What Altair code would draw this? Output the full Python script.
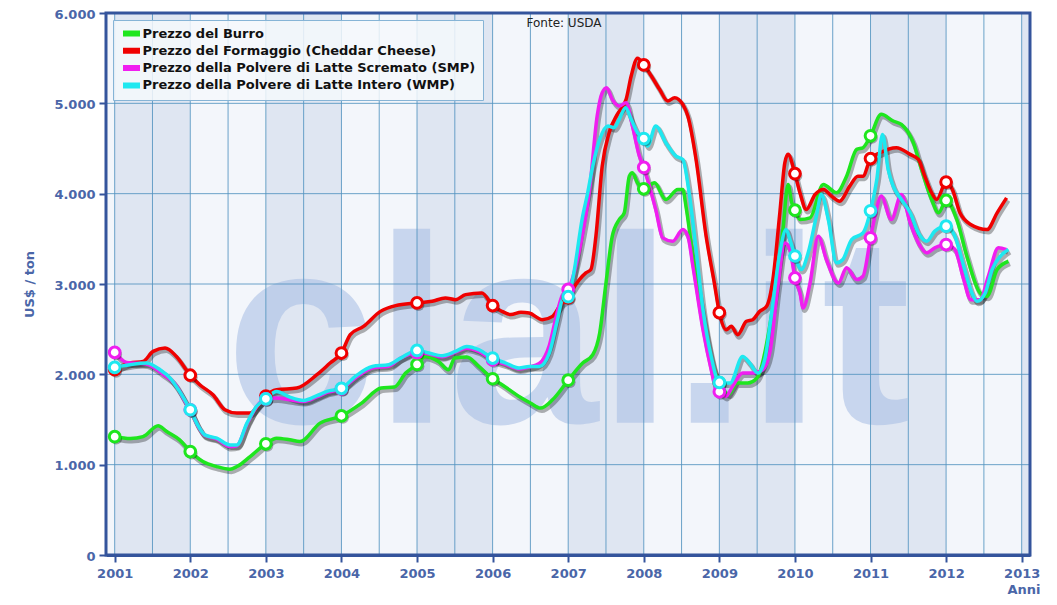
import altair as alt
import pandas as pd

# ---------------- data ----------------
SERIES = [
    "Prezzo del Burro",
    "Prezzo del Formaggio (Cheddar Cheese)",
    "Prezzo della Polvere di Latte Scremato (SMP)",
    "Prezzo della Polvere di Latte Intero (WMP)",
]
COLORS = ["#1ee61e", "#f00000", "#f01ef0", "#1ee8f0"]

# month index counted from January 2001
burro_m = [0, 2.5, 4.5, 6.9, 8.2, 10.3, 12, 14, 16.2, 18.3, 19.4, 21.5, 24, 25.7, 27.8, 29.4,
           32.6, 36, 39.2, 42.3, 44.4, 46.2, 48, 49.3, 51.4, 53, 54, 55.9, 57.8, 60, 61.5,
           64.2, 66, 67.6, 69.5, 72, 74.3, 75.9, 77, 78, 79, 80.1, 80.9, 81.7, 82.2, 83, 84,
           85.7, 87.5, 89.4, 90.2, 90.7, 91.8, 93.4, 95, 96, 97.5, 98.8, 100.5, 102, 104.5,
           106.1, 106.9, 107.5, 108, 108.8, 110.4, 112.5, 114.6, 116.2, 117.8, 118.8, 120,
           121.7, 123.6, 124.9, 126.8, 128.1, 129.7, 130.8, 132, 133.7, 135.3, 137.4, 138.5,
           140.1, 141.9]
burro_v = [1310, 1290, 1310, 1430, 1370, 1275, 1145, 1035, 979, 950, 979, 1090, 1231, 1293,
           1275, 1256, 1460, 1540, 1681, 1848, 1859, 2014, 2110, 2198, 2143, 2051, 2180, 2192,
           2088, 1951, 1885, 1755, 1682, 1626, 1718, 1935, 2125, 2217, 2458, 3012, 3529, 3714,
           3788, 4194, 4231, 4120, 4054, 4120, 3935, 4046, 4046, 3861, 3307, 2641, 2087, 1907,
           1780, 1904, 1904, 1962, 2752, 3603, 4102, 3899, 3817, 3714, 3733, 4102, 4010, 4194,
           4490, 4509, 4640, 4878, 4804, 4767, 4564, 4268, 3936, 3788, 3925, 3714, 3307, 2901,
           2864, 3160, 3252]

formaggio_m = [0, 2.4, 4.5, 6.1, 8, 9.8, 12, 13.5, 15.6, 17.5, 19.4, 21.5, 23.1, 24, 25.7,
               28.9, 32.1, 34.2, 36, 37.4, 39.5, 42.2, 44.6, 48, 50.4, 52.5, 54.1, 55.7, 58.3,
               60, 61.5, 62.9, 64.5, 65.8, 67.9, 69.5, 70.8, 72, 72.7, 74.8, 75.6, 76.4, 77.4,
               78.5, 79.8, 81.2, 82, 83, 84, 85.2, 86.5, 87.8, 88.9, 90.2, 91, 92.3, 93.9, 95.2,
               96, 97.1, 97.9, 98.9, 100.3, 101.3, 102.4, 103.5, 104.5, 105.6, 106.4, 106.9,
               108, 108.8, 109.8, 111.2, 112.5, 113.8, 115.1, 116.7, 118, 118.8, 120, 121.5,
               124.1, 126.3, 127.6, 128.6, 129.7, 130.5, 132, 133, 134.2, 135.9, 138.5, 140.1,
               141.6]
formaggio_v = [2051, 2125, 2143, 2254, 2291, 2198, 1990, 1885, 1774, 1608, 1571, 1571, 1682,
               1760, 1829, 1848, 1996, 2125, 2236, 2440, 2531, 2697, 2761, 2790, 2808, 2846,
               2827, 2882, 2901, 2761, 2697, 2661, 2687, 2679, 2605, 2642, 2772, 2850, 2938,
               3123, 3160, 3529, 4305, 4675, 4878, 5044, 5303, 5500, 5425, 5303, 5155, 5026,
               5063, 4989, 4859, 4379, 3529, 3012, 2683, 2494, 2531, 2439, 2587, 2605, 2697,
               2753, 3049, 3788, 4343, 4435, 4221, 4010, 3825, 3991, 4047, 3973, 3917, 4083,
               4194, 4194, 4388, 4453, 4509, 4435, 4379, 4194, 4010, 3936, 4128, 4047, 3788,
               3659, 3603, 3788, 3953]

smp_m = [0, 1.9, 5, 7.7, 9.8, 11.1, 12, 13.3, 14.3, 16.2, 18.3, 19.4, 21, 22.5, 24, 25.7,
         27.8, 30, 32.1, 33.7, 36, 38.2, 40.9, 43.5, 45.4, 48, 49.9, 52, 54.1, 55.9, 57.8, 60,
         62.1, 64.2, 65.8, 67.4, 69, 70.3, 71.1, 72, 73.8, 75.4, 76.6, 77.4, 78.1, 79, 80.1,
         81.2, 82.2, 83.3, 84, 84.9, 85.9, 87, 88.6, 90.2, 91, 91.8, 93.4, 94.7, 95.5, 96, 97,
         98.1, 99.7, 101.3, 102.9, 104, 105.3, 106.4, 107.2, 108, 108.8, 109.3, 110.4, 111.7,
         113, 114.9, 116.2, 117.8, 118.8, 120, 120.7, 121.7, 123.3, 124.9, 126.3, 127.9, 128.9,
         130.2, 132, 133.4, 134.8, 135.9, 137.4, 138.7, 140.3, 141.6]
smp_v = [2243, 2132, 2115, 2000, 1875, 1710, 1608, 1420, 1325, 1285, 1200, 1210, 1450, 1640,
         1729, 1737, 1718, 1700, 1750, 1800, 1840, 1960, 2070, 2090, 2180, 2240, 2225, 2195,
         2245, 2290, 2255, 2160, 2110, 2060, 2080, 2120, 2320, 2700, 2880, 2940, 3381, 4047,
         4860, 5118, 5173, 5044, 4970, 5007, 4749, 4416, 4290, 4083, 3825, 3511, 3474, 3603,
         3529, 3197, 2494, 2051, 1829, 1807, 1755, 1866, 2014, 2014, 2051, 2236, 2975, 3455,
         3381, 3068, 2901, 2734, 3012, 3529, 3271, 3012, 3179, 3049, 3086, 3511, 3751, 3973,
         3714, 3991, 3677, 3418, 3345, 3400, 3437, 3381, 3049, 2827, 2827, 3086, 3400, 3381]

wmp_m = [0, 2.4, 5, 7.2, 8.8, 10.3, 11.4, 12, 13.3, 14.3, 16.2, 18.3, 19.4, 21, 22.5, 24, 25.7,
         27.8, 30, 32.1, 33.7, 36, 38.2, 40.9, 43.5, 45.4, 48, 49.9, 52, 54.1, 55.9, 57.8, 60,
         62.1, 64.2, 65.8, 67.4, 69, 70.3, 71.1, 72, 72.7, 74.3, 75.1, 75.9, 77, 78.3, 79.3,
         80.1, 81.1, 82, 83, 84, 84.6, 85.9, 87.5, 89.1, 90.2, 91.2, 92.3, 93.4, 94.7, 96,
         97.7, 99.7, 100.8, 102.1, 103.2, 104.3, 105.6, 106.6, 107.2, 108, 109, 110.1, 111.4,
         112.2, 113.3, 114.6, 115.6, 117, 118.8, 120, 121, 121.9, 122.8, 123.6, 124.9, 126.3,
         127.6, 128.9, 130.2, 132, 133.4, 134.8, 136.1, 136.9, 138.2, 139.3, 140.6, 141.9]
wmp_v = [2077, 2106, 2125, 2051, 1959, 1811, 1682, 1608, 1423, 1330, 1293, 1219, 1219, 1460,
         1644, 1729, 1811, 1748, 1711, 1763, 1811, 1845, 1977, 2087, 2106, 2180, 2265, 2236,
         2206, 2254, 2309, 2273, 2180, 2125, 2070, 2087, 2087, 2236, 2605, 2827, 2860, 3049,
         3751, 4010, 4305, 4601, 4749, 4730, 4823, 4952, 4823, 4675, 4610, 4527, 4749, 4564,
         4416, 4379, 4010, 3381, 2716, 2198, 1910, 1904, 2198, 2125, 2014, 2162, 2679, 3345,
         3603, 3492, 3310, 3160, 3345, 3751, 3991, 3714, 3234, 3271, 3492, 3566, 3810, 4157,
         4656, 4268, 4083, 3936, 3788, 3566, 3474, 3585, 3640, 3529, 3197, 2901, 2808, 2901,
         3160, 3307, 3381]

YEAR_TICKS = list(range(2001, 2014))
Y_TICKS = [0, 1000, 2000, 3000, 4000, 5000, 6000]
BAND_YEARS = list(range(2000, 2014))
GRID_X = [2001 + 0.5 * i for i in range(25)]
GRID_Y = [1000, 2000, 3000, 4000, 5000]
X_DOMAIN = [2000.885, 2013.11]
Y_DOMAIN = [0, 6000]
WATERMARK = {"t": [2007.0], "v": [1463], "label": ["clal.it"]}
SOURCE = {"label": ["Fonte: USDA"]}

# ---------------- tables ----------------
rows = []
for name, ms, vs in zip(SERIES, [burro_m, formaggio_m, smp_m, wmp_m],
                        [burro_v, formaggio_v, smp_v, wmp_v]):
    for m, v in zip(ms, vs):
        rows.append({"serie": name, "m": m, "t": 2001 + m / 12.0, "v": v})
df = pd.DataFrame(rows)

bands = pd.DataFrame({"x0": BAND_YEARS, "x1": [y + 1 for y in BAND_YEARS],
                      "dark": [1 if y % 2 == 1 else 0 for y in BAND_YEARS]})
gx = pd.DataFrame({"g": GRID_X})
gy = pd.DataFrame({"h": GRID_Y})
wm = pd.DataFrame(WATERMARK)
src = pd.DataFrame(SOURCE)

W, H = 924, 542
AXIS_BLUE = "#34549c"
LABEL_BLUE = "#4a66a8"
GRID = "#5293bf"
FONT = "DejaVu Sans"

xs = alt.Scale(domain=X_DOMAIN, nice=False, zero=False)
ys = alt.Scale(domain=Y_DOMAIN, nice=False, zero=True)
cscale = alt.Scale(domain=SERIES, range=COLORS)

XAXIS = alt.Axis(values=YEAR_TICKS, format="d", grid=False, title="Anni",
                 domainColor=AXIS_BLUE, domainWidth=3, tickColor=AXIS_BLUE,
                 tickWidth=2, tickSize=7, labelFont=FONT, labelFontSize=13,
                 labelFontWeight="bold", labelColor=LABEL_BLUE, labelPadding=5,
                 titleFont=FONT, titleFontSize=13, titleFontWeight="bold",
                 titleColor=LABEL_BLUE, titleAlign="right", titleAnchor="end",
                 titleX=934, titleY=38, titleBaseline="alphabetic")
YAXIS = alt.Axis(values=Y_TICKS, grid=False, title="US$ / ton",
                 labelExpr="replace(format(datum.value, ',d'), ',', '.')",
                 domainColor=AXIS_BLUE, domainWidth=3, tickColor=AXIS_BLUE,
                 tickWidth=2, tickSize=7, labelFont=FONT, labelFontSize=13,
                 labelFontWeight="bold", labelColor=LABEL_BLUE, labelPadding=4,
                 labelFlush=False, labelBaseline="top", labelOffset=-5,
                 titleFont=FONT, titleFontSize=13, titleFontWeight="bold",
                 titleColor=LABEL_BLUE, titlePadding=17)

band_layer = alt.Chart(bands).mark_rect(clip=True).encode(
    x=alt.X("x0:Q", scale=xs, axis=XAXIS),
    x2="x1:Q",
    fill=alt.Fill("dark:N", scale=alt.Scale(domain=[0, 1], range=["#f3f6fb", "#dfe6f2"]),
                  legend=None),
)

watermark = alt.Chart(wm).mark_text(
    font="Liberation Sans", fontWeight="bold", fontSize=268,
    align="center", baseline="alphabetic", color="#a6bde4", opacity=0.55,
).encode(
    x=alt.X("t:Q", scale=xs, axis=XAXIS),
    y=alt.Y("v:Q", scale=ys, axis=YAXIS),
    text="label:N",
)

grid_v = alt.Chart(gx).mark_rule(color=GRID, strokeWidth=1, opacity=0.85).encode(
    x=alt.X("g:Q", scale=xs, axis=XAXIS),
)
grid_h = alt.Chart(gy).mark_rule(color=GRID, strokeWidth=1, opacity=0.85).encode(
    y=alt.Y("h:Q", scale=ys, axis=YAXIS),
)

base = alt.Chart(df)

line_shadow = base.mark_line(interpolate="monotone", color="#000000", opacity=0.3,
                             strokeWidth=5, xOffset=1.5, yOffset=2.5).encode(
    x=alt.X("t:Q", scale=xs, axis=XAXIS),
    y=alt.Y("v:Q", scale=ys, axis=YAXIS),
    detail="serie:N",
)

lines = base.mark_line(interpolate="monotone", strokeWidth=3.5).encode(
    x=alt.X("t:Q", scale=xs, axis=XAXIS),
    y=alt.Y("v:Q", scale=ys, axis=YAXIS),
    color=alt.Color("serie:N", scale=cscale,
                    legend=alt.Legend(title=None, orient="none", legendX=7, legendY=7,
                                      symbolType="M-1.7,0L1.7,0", symbolSize=100,
                                      symbolStrokeWidth=6, symbolOpacity=1,
                                      symbolOffset=3.5, clipHeight=13,
                                      labelFont=FONT, labelFontSize=13,
                                      labelFontWeight="bold", labelColor="#111111",
                                      labelOffset=3, rowPadding=3.3, padding=7,
                                      fillColor="rgba(245,248,252,0.85)",
                                      strokeColor="#86b4d6", labelLimit=500)),
)

marks = base.transform_filter("datum.m % 12 == 0")

point_shadow = marks.mark_circle(color="#000000", opacity=0.3, size=140,
                                 xOffset=1.5, yOffset=2).encode(
    x=alt.X("t:Q", scale=xs, axis=XAXIS),
    y=alt.Y("v:Q", scale=ys, axis=YAXIS),
)

points = marks.mark_point(filled=True, fill="white", size=115, strokeWidth=3,
                          opacity=1).encode(
    x=alt.X("t:Q", scale=xs, axis=XAXIS),
    y=alt.Y("v:Q", scale=ys, axis=YAXIS),
    stroke=alt.Stroke("serie:N", scale=cscale, legend=None),
)

frame = alt.Chart(wm).mark_rect(fill="white", fillOpacity=0, stroke=AXIS_BLUE,
                                strokeWidth=3).encode(
    x=alt.value(0), x2=alt.value(W), y=alt.value(0), y2=alt.value(H),
)

source_text = alt.Chart(src).mark_text(
    font=FONT, fontSize=12, color="#222222", align="center", baseline="top",
).encode(x=alt.value(W / 2 - 4), y=alt.value(5), text="label:N")

chart = alt.layer(
    band_layer, watermark, grid_v, grid_h, line_shadow, lines, point_shadow, points,
    frame, source_text
).properties(
    width=W, height=H,
    autosize=alt.AutoSizeParams(type="none"),
    padding={"left": 98, "top": 5, "right": 19, "bottom": 42},
).configure_view(
    stroke=None
).configure(background="white")

chart.save("out.html", embed_options={"renderer": "svg", "actions": False})
